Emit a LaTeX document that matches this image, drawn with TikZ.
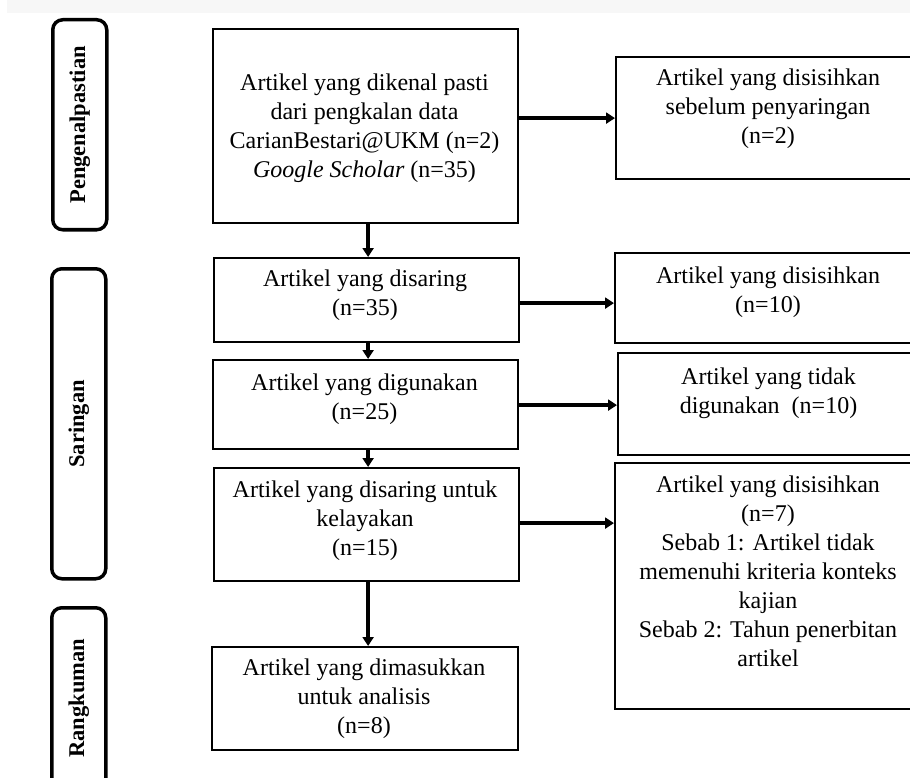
\documentclass[tikz,border=0pt]{standalone}
\usepackage{fontspec}
\setmainfont{Liberation Serif}
\usetikzlibrary{arrows.meta,calc}
\definecolor{topband}{RGB}{247,247,247}
\begin{document}
\begin{tikzpicture}[x=1pt,y=-1pt,
  box/.style={draw,line width=2.2pt,inner sep=0pt,anchor=north west},
  lab/.style={draw,line width=3.5pt,rounded corners=10pt,inner sep=0pt,anchor=north west},
  txt/.style={align=center,font=\fontsize{24}{29}\selectfont,inner sep=0pt},
  labtxt/.style={rotate=90,font=\fontsize{22.5}{27}\selectfont\bfseries,inner sep=0pt},
  arr/.style={line width=3.5pt,-{Triangle[length=9pt,width=11pt]}}]
\useasboundingbox (0,0) rectangle (910,778);
\clip (0,0) rectangle (910,778);
\fill[topband] (7,0) rectangle (910,13);

% phase labels
\node[lab,minimum width=54pt,minimum height=210pt] (l1) at (51,18) {};
\node[labtxt] (lt1) at (l1.center) {Pengenalpastian};
\node[lab,minimum width=54pt,minimum height=310pt] (l2) at (50,267) {};
\node[labtxt] (lt2) at (l2.center) {Saringan};
\node[lab,minimum width=54pt,minimum height=181pt] (l3) at (50,606) {};
\node[labtxt] (lt3) at (l3.center) {Rangkuman};

% main column
\node[box,minimum width=305pt,minimum height=194pt] (b1) at (212,28) {};
\node[txt] (t1) at (364.5,128.5) {Artikel yang dikenal pasti\\dari pengkalan data\\CarianBestari@UKM (n=2)\\\textit{Google Scholar} (n=35)};
\node[box,minimum width=305pt,minimum height=84pt] (b2) at (213,257) {};
\node[txt] (t2) at (365,295) {Artikel yang disaring\\(n=35)};
\node[box,minimum width=305pt,minimum height=89pt] (b3) at (212,359) {};
\node[txt] (t3) at (364.5,399) {Artikel yang digunakan\\(n=25)};
\node[box,minimum width=305pt,minimum height=113pt] (b4) at (213,467) {};
\node[txt] (t4) at (365,520.5) {Artikel yang disaring untuk\\kelayakan\\(n=15)};
\node[box,minimum width=306pt,minimum height=103pt] (b5) at (211,646) {};
\node[txt] (t5) at (364,698.5) {Artikel yang dimasukkan\\untuk analisis\\(n=8)};

% right column
\node[box,minimum width=310pt,minimum height=122pt] (r1) at (615,56) {};
\node[txt] (s1) at (768,109) {Artikel yang disisihkan\\sebelum penyaringan\\(n=2)};
\node[box,minimum width=310pt,minimum height=90pt] (r2) at (614,252) {};
\node[txt] (s2) at (768,292.5) {Artikel yang disisihkan\\(n=10)};
\node[box,minimum width=310pt,minimum height=102pt] (r3) at (617,352) {};
\node[txt] (s3) at (768.5,393) {Artikel yang tidak\\digunakan~ (n=10)};
\node[box,minimum width=310pt,minimum height=246pt] (r4) at (614,462) {};
\node[txt] (s4) at (768,571) {Artikel yang disisihkan\\(n=7)\\Sebab 1: Artikel tidak\\memenuhi kriteria konteks\\kajian\\Sebab 2: Tahun penerbitan\\artikel};

% vertical arrows
\draw[arr] ([xshift=2.5pt]b1.south) -- ([xshift=2.5pt]b1.south |- b2.north);
\draw[arr] ([xshift=1.5pt]b2.south) -- ([xshift=1.5pt]b2.south |- b3.north);
\draw[arr] ([xshift=2.5pt]b3.south) -- ([xshift=2.5pt]b3.south |- b4.north);
\draw[arr] ([xshift=1.5pt]b4.south) -- ([xshift=1.5pt]b4.south |- b5.north);

% horizontal arrows
\draw[arr] (r1.west -| b1.east) -- (r1.west);
\draw[arr] ([yshift=-3pt]b2.east) -- ([yshift=-3pt]b2.east -| r2.west);
\draw[arr] ([yshift=-0.5pt]b3.east) -- ([yshift=-0.5pt]b3.east -| r3.west);
\draw[arr] ([yshift=1.5pt]b4.east) -- ([yshift=1.5pt]b4.east -| r4.west);
\end{tikzpicture}
\end{document}
